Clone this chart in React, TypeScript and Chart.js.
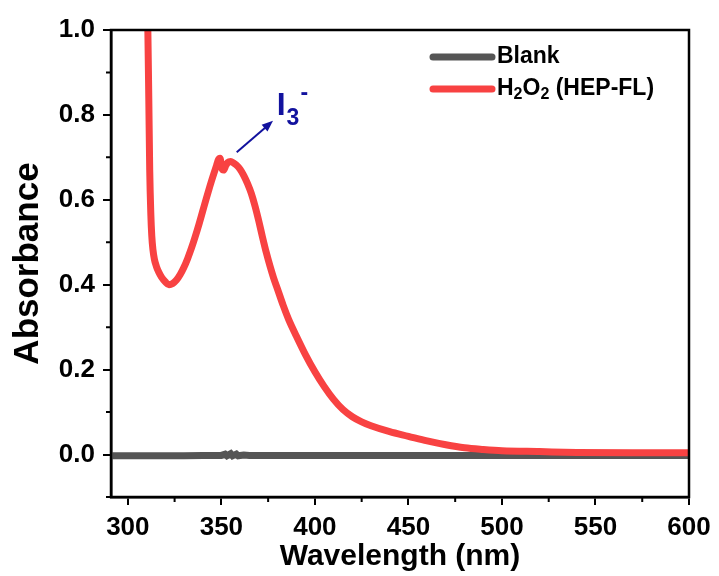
import React, { useEffect, useRef } from "react";
import { Chart, registerables } from "chart.js";

Chart.register(...registerables);

const redLabel = "H2O2 (HEP-FL)";
const blankLabel = "Blank";

const redX = [309, 310, 310.7, 311.2, 311.7, 312.3, 312.8, 313.4, 314.2, 315.2, 316.5, 318, 320, 322, 324, 326, 328, 330, 332, 334, 336, 338, 340, 342, 344, 346, 347.5, 348.5, 349.3, 350.2, 351.2, 352.3, 353.5, 355, 356.5, 358, 360, 362, 364, 366, 368, 370, 372, 374, 376, 378, 380, 383, 386, 390, 395, 400, 405, 410, 415, 420, 425, 430, 440, 450, 460, 470, 480, 490, 500, 520, 540, 570, 600];
const redY = [1.35, 1.15, 1.0, 0.84, 0.67, 0.565, 0.515, 0.483, 0.46, 0.444, 0.43, 0.418, 0.407, 0.4, 0.403, 0.411, 0.424, 0.441, 0.462, 0.486, 0.513, 0.542, 0.573, 0.604, 0.634, 0.662, 0.682, 0.695, 0.698, 0.675, 0.67, 0.68, 0.688, 0.69, 0.687, 0.682, 0.672, 0.657, 0.638, 0.615, 0.585, 0.55, 0.512, 0.476, 0.444, 0.415, 0.39, 0.352, 0.318, 0.28, 0.235, 0.195, 0.16, 0.13, 0.106, 0.089, 0.077, 0.068, 0.054, 0.043, 0.032, 0.023, 0.016, 0.012, 0.009, 0.007, 0.005, 0.004, 0.004];

const blankX = [291, 300, 310, 320, 330, 340, 350, 352, 353, 355, 356, 358, 359, 362, 365, 380, 400, 420, 440, 460, 480, 500, 520, 540, 560, 580, 600];
const blankY = [-0.003, -0.003, -0.003, -0.003, -0.003, -0.002, -0.002, 0.001, -0.003, 0.002, -0.003, 0.001, -0.003, -0.001, -0.002, -0.002, -0.002, -0.002, -0.002, -0.002, -0.002, -0.002, -0.002, -0.002, -0.002, -0.002, -0.002];

const xMajorTicks = [300, 350, 400, 450, 500, 550, 600];
const xMinorTicks = [325, 375, 425, 475, 525, 575];
const yMajorTicks = [0, 0.2, 0.4, 0.6, 0.8, 1.0];
const yMinorTicks = [-0.1, 0.1, 0.3, 0.5, 0.7, 0.9];

const FONT = "'Liberation Sans', Arial, sans-serif";
const RED = "#f84242";
const GRAY = "#555555";
const BLUE = "#12129e";

const framePlugin = {
  id: "frame",
  afterDraw(chart: any) {
    const { ctx, chartArea: a, scales } = chart;
    const xs = scales.x;
    const ys = scales.y;
    ctx.save();
    // minor ticks
    ctx.strokeStyle = "#000";
    ctx.lineWidth = 2;
    ctx.beginPath();
    xMinorTicks.forEach((v) => {
      const px = xs.getPixelForValue(v);
      ctx.moveTo(px, a.bottom);
      ctx.lineTo(px, a.bottom + 5);
    });
    yMinorTicks.forEach((v) => {
      const py = ys.getPixelForValue(v);
      ctx.moveTo(a.left, py);
      ctx.lineTo(a.left - 5, py);
    });
    ctx.stroke();
    // frame
    ctx.lineWidth = 2.5;
    ctx.strokeRect(a.left, a.top, a.right - a.left, a.bottom - a.top);

    // legend
    const lx0 = a.right - 256;
    const lx1 = a.right - 197;
    const ly = [a.top + 27, a.top + 59];
    ctx.lineCap = "round";
    ctx.lineWidth = 7;
    ctx.strokeStyle = GRAY;
    ctx.beginPath();
    ctx.moveTo(lx0, ly[0]);
    ctx.lineTo(lx1, ly[0]);
    ctx.stroke();
    ctx.strokeStyle = RED;
    ctx.beginPath();
    ctx.moveTo(lx0, ly[1]);
    ctx.lineTo(lx1, ly[1]);
    ctx.stroke();

    ctx.fillStyle = "#000";
    ctx.textBaseline = "middle";
    ctx.textAlign = "left";
    const big = `bold 23px ${FONT}`;
    const small = `bold 16px ${FONT}`;
    let tx = lx1 + 5;
    ctx.font = big;
    ctx.fillText(blankLabel, tx, ly[0]);
    // H2O2 (HEP-FL) with subscripts
    const parts: [string, boolean][] = [["H", false], ["2", true], ["O", false], ["2", true], [" (HEP-FL)", false]];
    parts.forEach(([t, sub]) => {
      ctx.font = sub ? small : big;
      ctx.fillText(t, tx, sub ? ly[1] + 6 : ly[1]);
      tx += ctx.measureText(t).width;
    });

    // I3- annotation with arrow
    const ax0 = xs.getPixelForValue(358.2);
    const ay0 = ys.getPixelForValue(0.712);
    const ax1 = xs.getPixelForValue(377.6);
    const ay1 = ys.getPixelForValue(0.786);
    ctx.strokeStyle = BLUE;
    ctx.fillStyle = BLUE;
    ctx.lineWidth = 2;
    ctx.lineCap = "butt";
    const ang = Math.atan2(ay1 - ay0, ax1 - ax0);
    const hl = 12;
    ctx.beginPath();
    ctx.moveTo(ax0, ay0);
    ctx.lineTo(ax1 - Math.cos(ang) * hl * 0.8, ay1 - Math.sin(ang) * hl * 0.8);
    ctx.stroke();
    ctx.beginPath();
    ctx.moveTo(ax1, ay1);
    ctx.lineTo(ax1 - hl * Math.cos(ang - 0.38), ay1 - hl * Math.sin(ang - 0.38));
    ctx.lineTo(ax1 - hl * Math.cos(ang + 0.38), ay1 - hl * Math.sin(ang + 0.38));
    ctx.closePath();
    ctx.fill();

    const ix = xs.getPixelForValue(379.6);
    const iy = ys.getPixelForValue(0.8);
    ctx.textBaseline = "alphabetic";
    ctx.font = `bold 32px ${FONT}`;
    ctx.fillText("I", ix, iy);
    const iw = ctx.measureText("I").width;
    ctx.font = `bold 23px ${FONT}`;
    ctx.fillText("3", ix + iw + 1, iy + 10);
    ctx.fillText("-", ix + iw + 15, iy - 15);
    ctx.restore();
  },
};

export default function App() {
  const ref = useRef<HTMLCanvasElement | null>(null);
  useEffect(() => {
    if (!ref.current) return;
    const chart = new Chart(ref.current, {
      type: "line",
      data: {
        datasets: [
          {
            label: redLabel,
            data: redX.map((x, i) => ({ x, y: redY[i] })),
            borderColor: RED,
            borderWidth: 7,
            pointRadius: 0,
            cubicInterpolationMode: "monotone",
            borderJoinStyle: "round",
            fill: false,
          },
          {
            label: blankLabel,
            data: blankX.map((x, i) => ({ x, y: blankY[i] })),
            borderColor: GRAY,
            borderWidth: 7,
            pointRadius: 0,
            tension: 0,
            fill: false,
          },
        ],
      },
      options: {
        responsive: false,
        animation: false,
        events: [],
        layout: { padding: { left: 0, top: 30, right: 30, bottom: 0 } },
        plugins: { legend: { display: false }, tooltip: { enabled: false } },
        scales: {
          x: {
            type: "linear",
            min: 291,
            max: 600,
            afterBuildTicks: (s: any) => {
              s.ticks = xMajorTicks.map((v) => ({ value: v }));
            },
            afterFit: (s: any) => {
              s.height = 79;
            },
            ticks: {
              color: "#000",
              font: { family: FONT, size: 26, weight: "bold" },
              padding: 7,
              maxRotation: 0,
              autoSkip: false,
              callback: (v: any) => String(v),
            },
            grid: { drawOnChartArea: false, drawTicks: true, tickLength: 8, color: "#000", lineWidth: 2 },
            border: { display: true, color: "#000", width: 2.5 },
            title: {
              display: true,
              text: "Wavelength (nm)",
              color: "#000",
              font: { family: FONT, size: 30, weight: "bold" },
              padding: { top: 0, bottom: 1 },
            },
          },
          y: {
            type: "linear",
            min: -0.1,
            max: 1.0,
            afterBuildTicks: (s: any) => {
              s.ticks = yMajorTicks.map((v) => ({ value: v }));
            },
            afterFit: (s: any) => {
              s.width = 111;
            },
            ticks: {
              color: "#000",
              font: { family: FONT, size: 26, weight: "bold" },
              padding: 8,
              autoSkip: false,
              callback: (v: any) => Number(v).toFixed(1),
            },
            grid: { drawOnChartArea: false, drawTicks: true, tickLength: 8, color: "#000", lineWidth: 2 },
            border: { display: true, color: "#000", width: 2.5 },
            title: {
              display: true,
              text: "Absorbance",
              color: "#000",
              font: { family: FONT, size: 35, weight: "bold" },
              padding: { top: 7, bottom: 0 },
            },
          },
        },
      },
      plugins: [framePlugin],
    } as any);
    return () => chart.destroy();
  }, []);
  return (
    <div style={{ position: "fixed", left: 0, top: 0, width: 719, height: 576, background: "#fff" }}>
      <canvas ref={ref} width={719} height={576} style={{ display: "block" }} />
    </div>
  );
}
